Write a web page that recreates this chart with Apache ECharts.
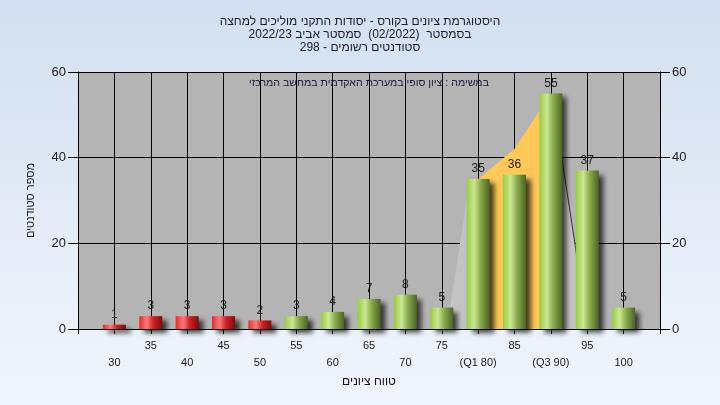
<!DOCTYPE html>
<html>
<head>
<meta charset="utf-8">
<script src="https://cdn.jsdelivr.net/npm/echarts@6/dist/echarts.min.js"></script>
<style>
html,body{margin:0;padding:0;}
#chart{width:720px;height:405px;}
</style>
</head>
<body>
<div id="chart"></div>
<script>
// ---- data ----
const titleLines = [
  'היסטוגרמת ציונים בקורס - יסודות התקני מוליכים למחצה',
  'בסמסטר  (02/2022)  סמסטר אביב 2022/23',
  'סטודנטים רשומים - 298'
];
const noteText = 'במשימה : ציון סופי במערכת האקדמית במחשב המרכזי';
const xAxisName = 'טווח ציונים';
const yAxisName = 'מספר סטודנטים';
const scores = [30, 35, 40, 45, 50, 55, 60, 65, 70, 75, 80, 85, 90, 95, 100];
const counts = [1, 3, 3, 3, 2, 3, 4, 7, 8, 5, 35, 36, 55, 37, 5];
const xTickLabels = ['30', '35', '40', '45', '50', '55', '60', '65', '70', '75', '(Q1 80)', '85', '(Q3 90)', '95', '100'];
const yTicks = [0, 20, 40, 60];
const passScore = 55;
// quartile band (Q1..Q3) outline points [score, count]
const quartileBand = [[80, 35], [85, 42], [90, 55]];
// light background distribution region [score, count]
const distRegion = [[75.7, 0], [78.6, 32], [84, 38], [89, 46], [91.5, 40], [93.3, 20], [95.5, 0]];
// dark outline segment [score, count]
const distEdge = [[90.5, 50], [91.5, 40], [93.3, 20], [94.5, 5]];

// ---- chart ----
const FONT = 'Liberation Sans';
const chart = echarts.init(document.getElementById('chart'), null, {renderer: 'canvas'});

const greenGrad = new echarts.graphic.LinearGradient(0, 0, 1, 0, [
  {offset: 0, color: '#9acb3e'},
  {offset: 0.33, color: '#cbe793'},
  {offset: 0.6, color: '#8aac4c'},
  {offset: 1, color: '#4a6524'}
]);
const redGrad = new echarts.graphic.LinearGradient(0, 0, 1, 0, [
  {offset: 0, color: '#e82a2a'},
  {offset: 0.33, color: '#ff7b7b'},
  {offset: 0.6, color: '#d42222'},
  {offset: 1, color: '#7e0c0c'}
]);

const barData = scores.map((s, i) => ({
  value: [s, counts[i]],
  itemStyle: {color: s < passScore ? redGrad : greenGrad}
}));

const yMin = yTicks[0], yMax = yTicks[yTicks.length - 1], yInt = yTicks[1] - yTicks[0];
const xStep = scores[1] - scores[0];
const xMin = scores[0] - xStep, xMax = scores[scores.length - 1] + xStep;

const yAxisCommon = {
  type: 'value', min: yMin, max: yMax, interval: yInt,
  axisLine: {show: true, lineStyle: {color: '#000', width: 1}},
  axisTick: {show: true, length: 10, lineStyle: {color: '#000'}},
  axisLabel: {color: '#1c1c1c', fontSize: 13, fontFamily: FONT, margin: 12},
};

chart.setOption({
  backgroundColor: {
    type: 'linear', x: 0, y: 0, x2: 0, y2: 1,
    colorStops: [{offset: 0, color: '#d3dff0'}, {offset: 1, color: '#f0f6fd'}]
  },
  animation: false,
  title: {
    text: titleLines.join('\n'),
    left: 'center', top: 10,
    textStyle: {fontFamily: FONT, fontSize: 12, fontWeight: 'normal', color: '#1a1a2a', lineHeight: 13}
  },
  graphic: [{
    type: 'text', left: 249, top: 78, z: 100,
    style: {text: noteText, fontFamily: FONT, fontSize: 10.6, fill: '#1a1a3a'}
  }],
  grid: {left: 78, right: 60, top: 72, bottom: 76, show: true, backgroundColor: '#b4b4b4', borderWidth: 0},
  xAxis: {
    type: 'value', min: xMin, max: xMax, interval: xStep,
    name: xAxisName, nameLocation: 'middle', nameGap: 47,
    nameTextStyle: {fontFamily: FONT, fontSize: 12, color: '#200020'},
    axisLine: {show: true, onZero: false, lineStyle: {color: '#000'}},
    axisTick: {show: true, length: 5, lineStyle: {color: '#000'}},
    splitLine: {show: true, lineStyle: {color: '#000', width: 1}},
    axisLabel: {
      fontFamily: FONT, fontSize: 11, color: '#1c1c1c', lineHeight: 17, margin: 8,
      showMinLabel: true, showMaxLabel: true,
      formatter: function (v) {
        const idx = Math.round((v - scores[0]) / xStep);
        if (idx < 0 || idx >= xTickLabels.length) return '';
        return idx % 2 === 1 ? xTickLabels[idx] : '\n' + xTickLabels[idx];
      }
    }
  },
  yAxis: [
    Object.assign({}, yAxisCommon, {
      position: 'left',
      name: yAxisName, nameLocation: 'middle', nameGap: 42, nameRotate: 90,
      nameTextStyle: {fontFamily: FONT, fontSize: 11, color: '#1c1c1c'},
      splitLine: {show: true, lineStyle: {color: '#000', width: 1}}
    }),
    Object.assign({}, yAxisCommon, {
      position: 'right',
      splitLine: {show: false}
    })
  ],
  series: [
    {
      type: 'line', data: distRegion, symbol: 'none', silent: true,
      lineStyle: {width: 0}, areaStyle: {color: '#c3c3c3', opacity: 1}, z: 2
    },
    {
      type: 'line', data: quartileBand, symbol: 'none', silent: true,
      lineStyle: {width: 0}, areaStyle: {color: '#ffc957', opacity: 1}, z: 2
    },
    {
      type: 'line', data: distEdge, symbol: 'none', silent: true,
      lineStyle: {width: 1, color: '#333'}, z: 2
    },
    {
      type: 'bar', data: barData, barWidth: 23, z: 3,
      itemStyle: {shadowBlur: 5, shadowColor: 'rgba(0,0,0,0.7)', shadowOffsetX: 5, shadowOffsetY: 4},
      label: {
        show: true, position: 'top', distance: 4,
        fontFamily: FONT, fontSize: 12, color: '#1c1c1c',
        formatter: p => p.value[1]
      }
    }
  ]
});
</script>
</body>
</html>
